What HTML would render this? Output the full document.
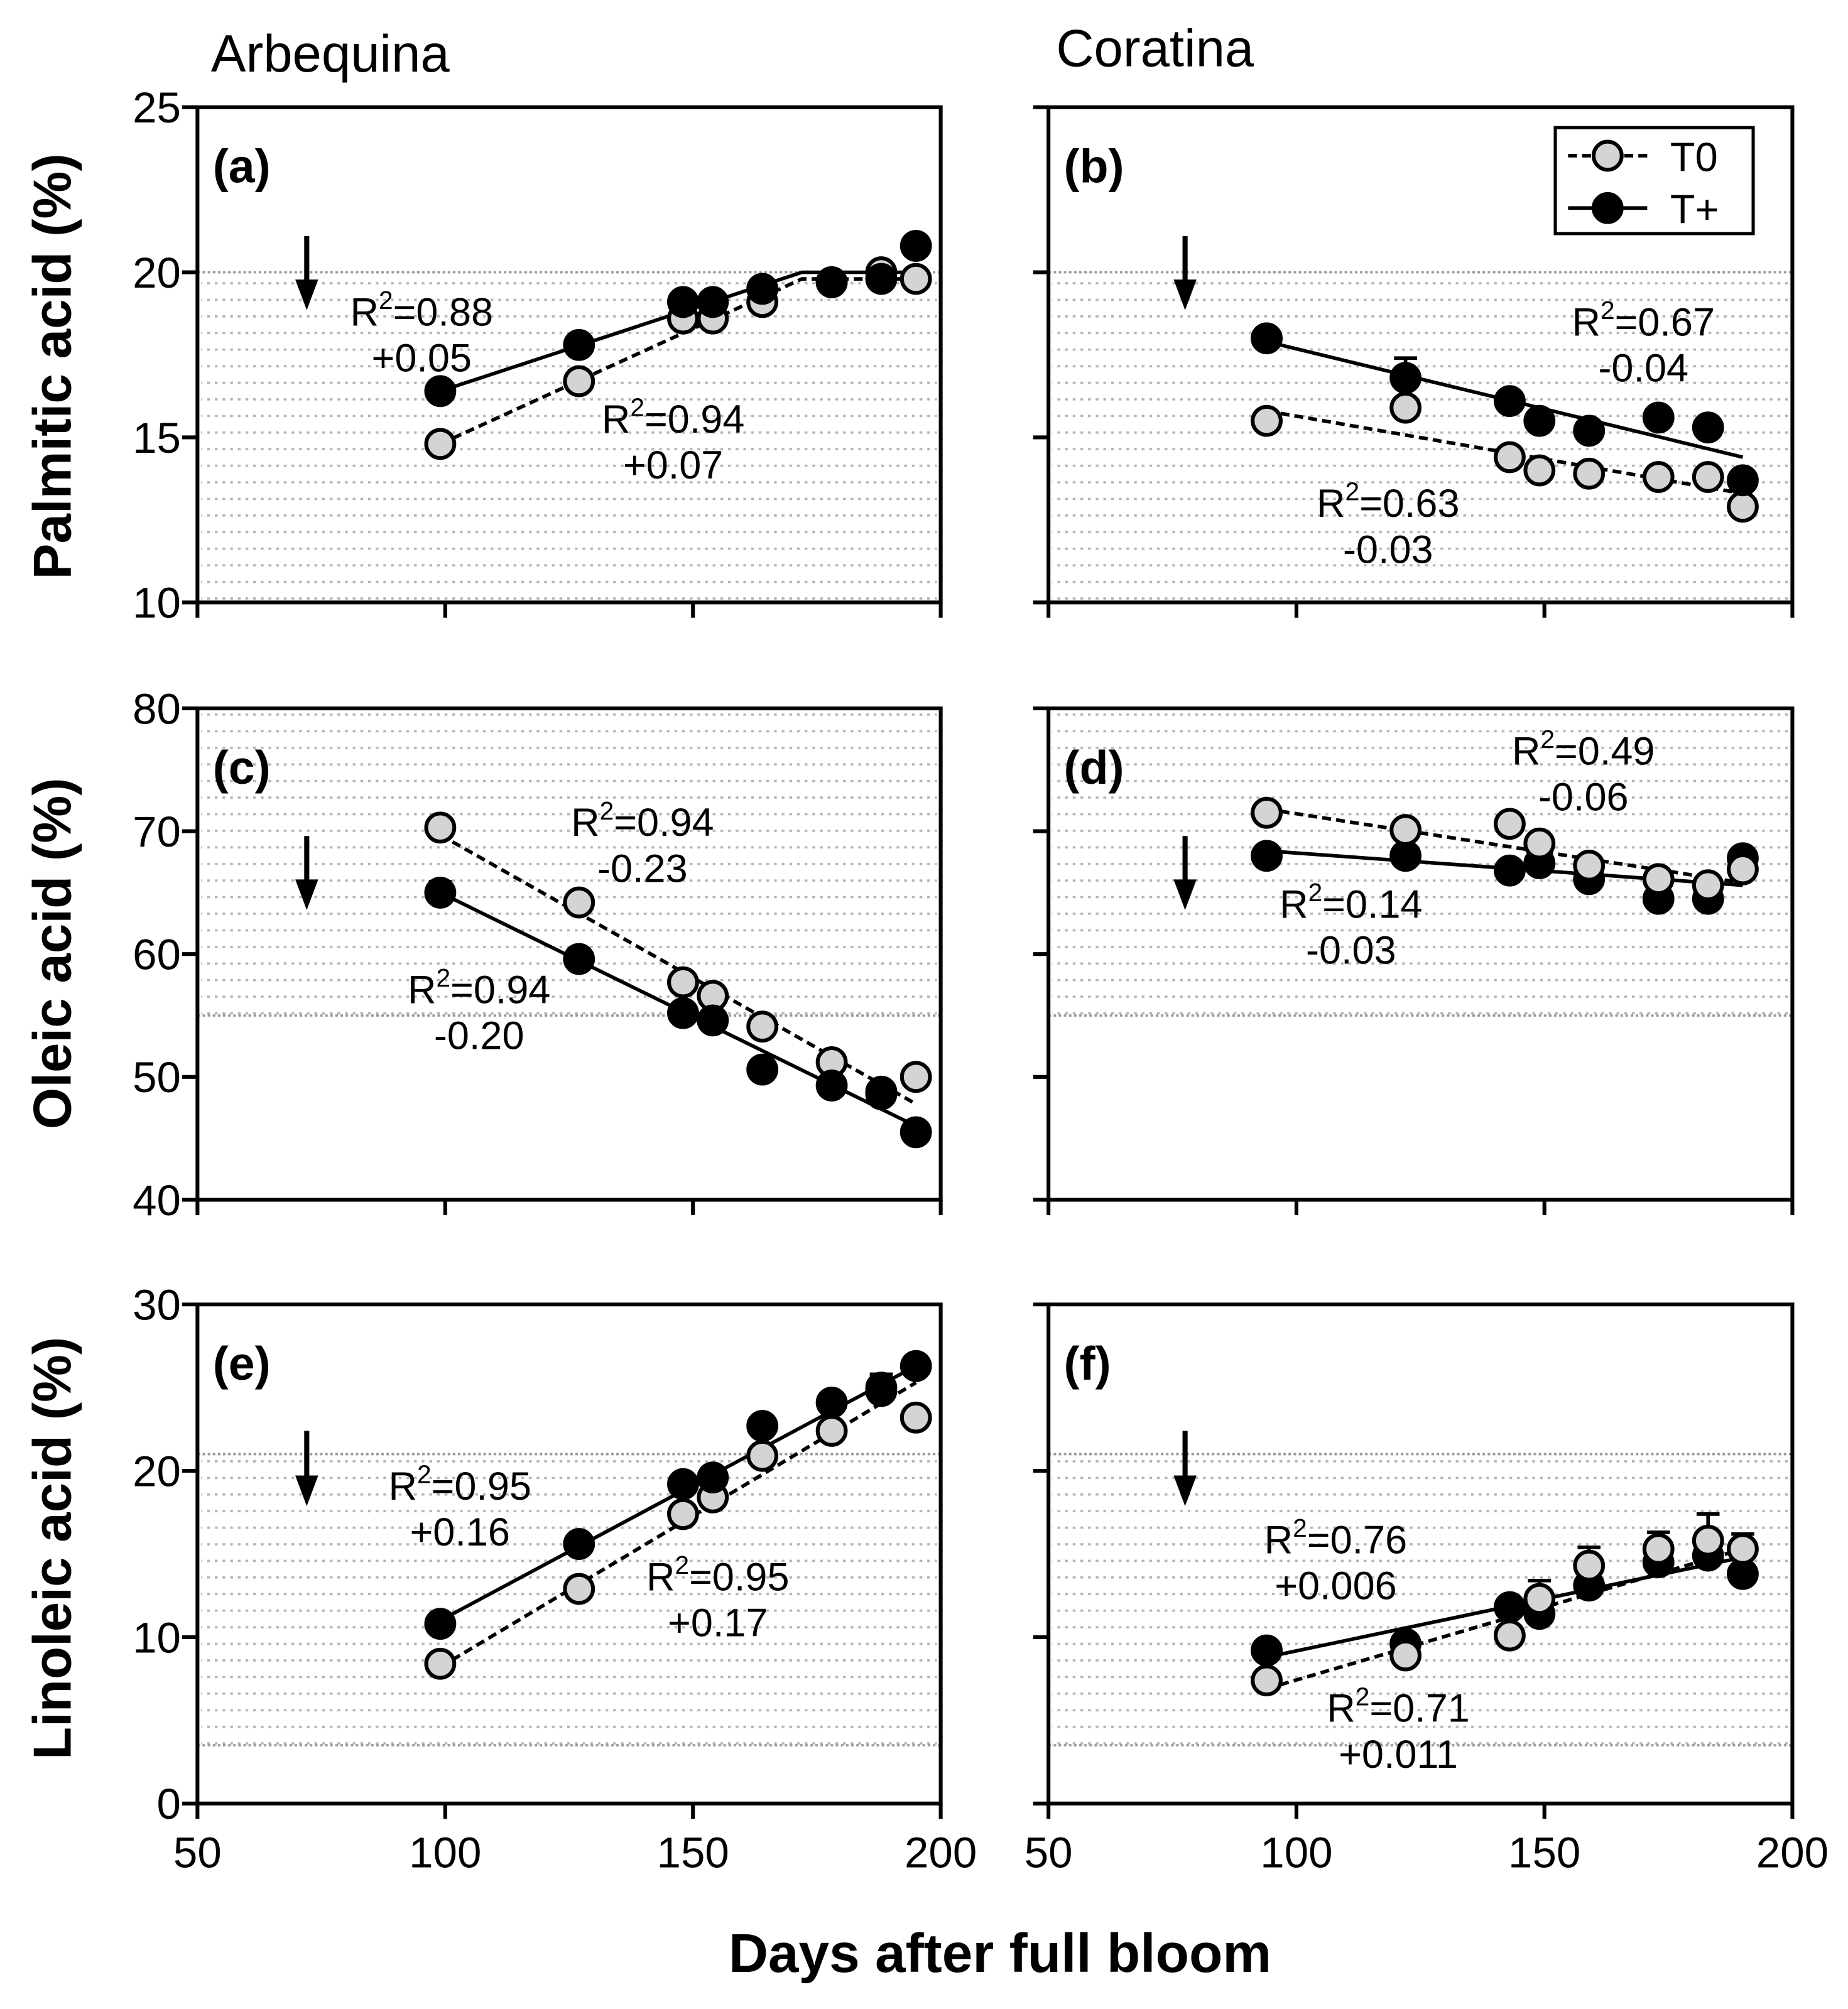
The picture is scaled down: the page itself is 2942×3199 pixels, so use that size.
<!DOCTYPE html>
<html><head><meta charset="utf-8"><style>
html,body{margin:0;padding:0;background:#fff}
svg{display:block}
text{font-family:"Liberation Sans",Arial,sans-serif}
</style></head><body>
<svg id="c" width="2942" height="3199" viewBox="0 0 1447 1574" xmlns="http://www.w3.org/2000/svg">
<defs>
<pattern id="dots" x="0" y="0" width="6" height="13" patternUnits="userSpaceOnUse">
<rect x="0" y="0" width="2.2" height="1.8" fill="#b5b5b5"/>
</pattern>
</defs>
<rect width="1447" height="1574" fill="#fff"/>
<text x="165" y="56" font-size="41">Arbequina</text>
<text x="827" y="52" font-size="41">Coratina</text>
<text x="783" y="1545" font-size="43" font-weight="bold" text-anchor="middle">Days after full bloom</text>
<text transform="translate(55,287) rotate(-90)" font-size="42" font-weight="bold" text-anchor="middle">Palmitic acid (%)</text>
<text transform="translate(55,747) rotate(-90)" font-size="42" font-weight="bold" text-anchor="middle">Oleic acid (%)</text>
<text transform="translate(55,1213) rotate(-90)" font-size="42" font-weight="bold" text-anchor="middle">Linoleic acid (%)</text>
</svg>
<script>
const NS="http://www.w3.org/2000/svg";
const svg=document.getElementById('c');
const daysA=[99,127,148,154,164,178,188,195];
const daysC=[94,122,143,149,159,173,183,190];
const aT0=[14.8,16.7,18.6,18.6,19.1,19.7,20.0,19.8];
const aTp=[16.4,17.8,19.1,19.1,19.5,19.7,19.8,20.8];
const bT0=[15.5,15.9,14.4,14.0,13.9,13.8,13.8,12.9];
const bTp=[18.0,16.8,16.1,15.5,15.2,15.6,15.3,13.7];
const cT0=[70.3,64.2,57.7,56.6,54.1,51.2,48.8,50.0];
const cTp=[65.0,59.6,55.2,54.6,50.6,49.3,48.6,45.5];
const dT0=[71.5,70.1,70.6,69.0,67.2,66.1,65.6,66.9];
const dTp=[68.0,68.0,66.8,67.4,66.1,64.5,64.5,67.8];
const eT0=[8.4,12.9,17.4,18.4,20.9,22.4,25.0,23.2];
const eTp=[10.8,15.6,19.2,19.6,22.7,24.1,24.8,26.3];
const fT0=[7.4,8.9,10.1,12.3,14.3,15.3,15.8,15.3];
const fTp=[9.2,9.6,11.8,11.4,13.1,14.5,14.9,13.8];
const fT0err=[0,0,0,1.1,1.1,1.0,1.6,0.9];
const bTperr=[0,0.6,0,0,0,0,0,0];
const xTicks=[50,100,150,200];

function el(tag,attrs,parent){const e=document.createElementNS(NS,tag);for(const k in attrs)e.setAttribute(k,attrs[k]);(parent||svg).appendChild(e);return e;}

const cols=[{x0:154.4,x1:736.6},{x0:821,x1:1403.7}];
const rows=[{y0:84,y1:472,min:10,max:25,ticks:[10,15,20,25]},{y0:555,y1:940,min:40,max:80,ticks:[40,50,60,70,80]},{y0:1022,y1:1413,min:0,max:30,ticks:[0,10,20,30]}];

const panels=[
 {id:'a',c:0,r:0,days:daysA,t0:aT0,tp:aTp,t0e:null,tpe:null,bg:[10,20],ref:[20],tpTop:true,
  fitTp:[[99,16.4],[172,20.0],[195,20.0]],fitT0:[[99,14.8],[172,19.8],[195,19.8]],
  ann:[['R\u00b2=0.88','+0.05',330,243],['R\u00b2=0.94','+0.07',527,327]],arrow:[240,185,243]},
 {id:'b',c:1,r:0,days:daysC,t0:bT0,tp:bTp,t0e:null,tpe:bTperr,bg:[10,20],ref:[20],tpTop:true,
  fitTp:[[94,17.9],[190,14.4]],fitT0:[[94,15.8],[190,13.3]],
  ann:[['R\u00b2=0.67','-0.04',1287,251],['R\u00b2=0.63','-0.03',1087,393]],arrow:[928,185,243]},
 {id:'c',c:0,r:1,days:daysA,t0:cT0,tp:cTp,t0e:null,tpe:[0.9,0,0,0,0,0,0.8,0],bg:[55,80],ref:[55],tpTop:true,
  fitTp:[[99,65.0],[195,46.0]],fitT0:[[99,69.7],[195,47.8]],
  ann:[['R\u00b2=0.94','-0.23',503,643],['R\u00b2=0.94','-0.20',375,774]],arrow:[240,655,713]},
 {id:'d',c:1,r:1,days:daysC,t0:dT0,tp:dTp,t0e:null,tpe:null,bg:[55,80],ref:[55],tpTop:false,
  fitTp:[[94,68.4],[190,65.6]],fitT0:[[94,71.8],[190,65.8]],
  ann:[['R\u00b2=0.49','-0.06',1240,587],['R\u00b2=0.14','-0.03',1058,707]],arrow:[928,655,713]},
 {id:'e',c:0,r:2,days:daysA,t0:eT0,tp:eTp,t0e:[0,0,0,0,0,0,0.8,0],tpe:null,bg:[3.5,21],ref:[21,3.5],tpTop:true,
  fitTp:[[99,11.0],[195,26.3]],fitT0:[[99,8.2],[195,25.3]],
  ann:[['R\u00b2=0.95','+0.16',360,1163],['R\u00b2=0.95','+0.17',562,1234]],arrow:[240,1121,1180]},
 {id:'f',c:1,r:2,days:daysC,t0:fT0,tp:fTp,t0e:fT0err,tpe:null,bg:[3.5,21],ref:[21,3.5],tpTop:false,
  fitTp:[[94,8.8],[190,14.8]],fitT0:[[94,6.9],[190,15.3]],
  ann:[['R\u00b2=0.76','+0.006',1046,1205],['R\u00b2=0.71','+0.011',1095,1337]],arrow:[928,1121,1180]}
];

panels.forEach(p=>{
  const C=cols[p.c],R=rows[p.r];
  const sx=d=>C.x0+(d-50)/150*(C.x1-C.x0);
  const sy=v=>R.y1-(v-R.min)/(R.max-R.min)*(R.y1-R.y0);
  const g=el('g',{});
  
  
  const bgr=el('rect',{x:C.x0+3,y:sy(p.bg[1]),width:C.x1-C.x0-6,height:sy(p.bg[0])-sy(p.bg[1]),fill:'url(#dots)'},g);
  
  
  p.ref.forEach(v=>{
    const l=el('line',{x1:C.x0,x2:C.x1,y1:sy(v),y2:sy(v),stroke:'#999','stroke-width':1.8,'stroke-dasharray':'2 2'},g);
    
    
  });
  const fr=el('rect',{x:C.x0,y:R.y0,width:C.x1-C.x0,height:R.y1-R.y0,fill:'none',stroke:'#000','stroke-width':3},g);
  
  
  R.ticks.forEach(t=>{
    el('line',{x1:C.x0-12,x2:C.x0,y1:sy(t),y2:sy(t),stroke:'#000','stroke-width':3},g);
    if(p.c===0){
      const tx=el('text',{x:C.x0-13,y:sy(t)+12,'font-size':34,'text-anchor':'end'},g);
      tx.textContent=t;
      
      
    }
  });
  xTicks.forEach(t=>{
    el('line',{x1:sx(t),x2:sx(t),y1:R.y1,y2:R.y1+12,stroke:'#000','stroke-width':3},g);
    if(p.r===2){
      const tx=el('text',{x:sx(t),y:R.y1+50,'font-size':34,'text-anchor':'middle'},g);
      tx.textContent=t;
      
      
    }
  });
  const lab=el('text',{x:C.x0+12,y:R.y0+59,'font-size':37,'font-weight':'bold'},g);
  lab.textContent='('+p.id+')';
  
  
  const [ax,ay0,ay1]=p.arrow;
  el('line',{x1:ax,x2:ax,y1:ay0,y2:ay1-20,stroke:'#000','stroke-width':4},g);
  const ah=el('polygon',{points:`${ax-9},${ay1-24} ${ax+9},${ay1-24} ${ax},${ay1}`,fill:'#000'},g);
  
  
  const pts=a=>a.map(q=>sx(q[0])+','+sy(q[1])).join(' ');
  const ft0=el('polyline',{points:pts(p.fitT0),fill:'none',stroke:'#000','stroke-width':2.8,'stroke-dasharray':'7 4'},g);
  
  
  const ftp=el('polyline',{points:pts(p.fitTp),fill:'none',stroke:'#000','stroke-width':2.8},g);
  
  
  const drawSeries=(vals,errs,fill,name)=>{
    vals.forEach((v,i)=>{
      if(errs&&errs[i]>0){
        el('line',{x1:sx(p.days[i]),x2:sx(p.days[i]),y1:sy(v),y2:sy(v+errs[i]),stroke:'#000','stroke-width':2.8},g);
        el('line',{x1:sx(p.days[i])-9,x2:sx(p.days[i])+9,y1:sy(v+errs[i]),y2:sy(v+errs[i]),stroke:'#000','stroke-width':2.8},g);
      }
    });
    vals.forEach((v,i)=>{
      const c=el('circle',{cx:sx(p.days[i]),cy:sy(v),r:11,fill:fill,stroke:'#000','stroke-width':3},g);
      
      
    });
  };
  if(p.tpTop){
    drawSeries(p.t0,p.t0e,'#d4d4d4','point-t0');
    drawSeries(p.tp,p.tpe,'#000','point-tplus');
  } else {
    drawSeries(p.tp,p.tpe,'#000','point-tplus');
    drawSeries(p.t0,p.t0e,'#d4d4d4','point-t0');
  }
  p.ann.forEach(a=>{
    const t1=el('text',{x:a[2],y:a[3]+12,'font-size':31,'text-anchor':'middle'},g);
    t1.innerHTML=a[0].replace('\u00b2','<tspan dy="-13" font-size="20">2</tspan><tspan dy="13">')+'</tspan>';
    
    
    const t2=el('text',{x:a[2],y:a[3]+48,'font-size':31,'text-anchor':'middle'},g);
    t2.textContent=a[1];
    
    
  });
});
const lg=el('g',{});


el('rect',{x:1218,y:100,width:155,height:83,fill:'#fff',stroke:'#000','stroke-width':2.5},lg);
el('line',{x1:1228,x2:1290,y1:122,y2:122,stroke:'#000','stroke-width':2.8,'stroke-dasharray':'7 4'},lg);
el('circle',{cx:1259,cy:122,r:11,fill:'#d4d4d4',stroke:'#000','stroke-width':3},lg);
el('line',{x1:1228,x2:1290,y1:163,y2:163,stroke:'#000','stroke-width':2.8},lg);
el('circle',{cx:1259,cy:163,r:11,fill:'#000',stroke:'#000','stroke-width':3},lg);
const l1=el('text',{x:1308,y:134,'font-size':32},lg);l1.textContent='T0';


const l2=el('text',{x:1308,y:175,'font-size':32},lg);l2.textContent='T+';


</script>
</body></html>
